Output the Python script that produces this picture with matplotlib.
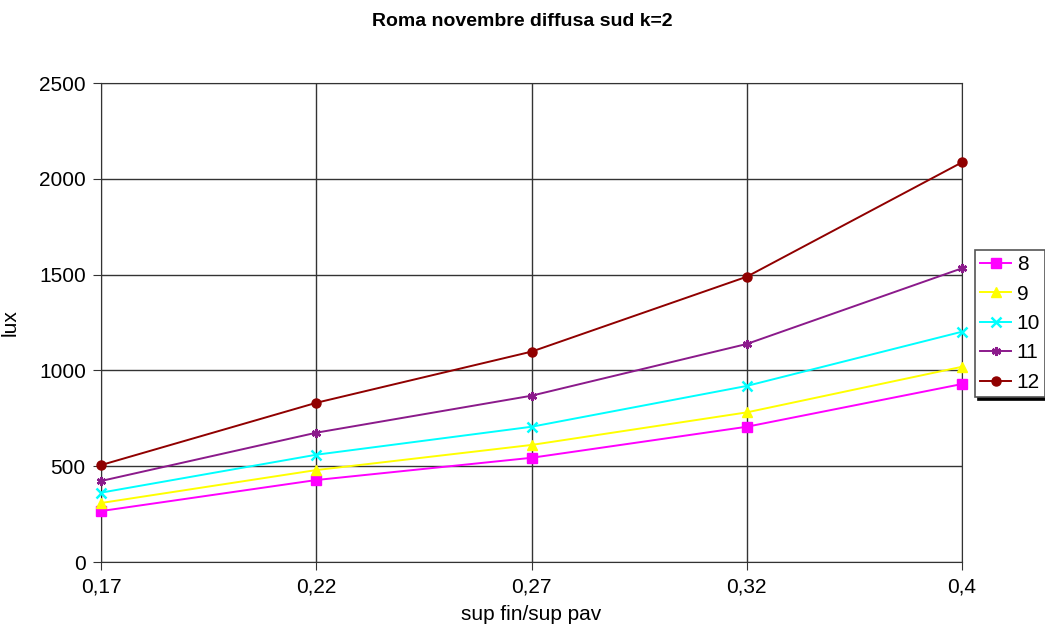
import matplotlib.pyplot as plt
import numpy as np

plt.rcParams['font.family'] = ['Liberation Sans', 'DejaVu Sans']

categories = ['0,17', '0,22', '0,27', '0,32', '0,4']
series_names = ['8', '9', '10', '11', '12']
s8 = [266, 428, 544, 706, 929]
s9 = [308, 480, 611, 781, 1019]
s10 = [362, 560, 706, 919, 1202]
s11 = [423, 675, 868, 1138, 1533]
s12 = [506, 831, 1098, 1489, 2086]

colors = ['#FF00FF', '#FFFF00', '#00FFFF', '#8B1A8B', '#900000']
markers = ['s', '^', 'x', (6, 2, 0), 'o']

fig = plt.figure(figsize=(10.45, 6.37), dpi=100)
ax = fig.add_axes([0.0967, 0.1177, 0.8239, 0.752])

x = np.arange(len(categories))
for name, vals, c, m in zip(series_names, [s8, s9, s10, s11, s12], colors, markers):
    ax.plot(x, vals, color=c, marker=m, markersize=6.5, markeredgewidth=1.8 if m in ('x', (6, 2, 0)) else 1,
            linewidth=1.4, label=name, clip_on=False, zorder=3)

ax.set_xlim(0, 4)
ax.set_ylim(0, 2500)
ax.set_xticks(x)
ax.set_xticklabels(categories)
ax.set_yticks(np.arange(0, 2501, 500))
ax.grid(True, color='#333333', linewidth=1)
ax.set_axisbelow(True)
for s in ax.spines.values():
    s.set_color('#333333')
ax.tick_params(labelsize=15, length=6, color='#333333', pad=5)

ax.set_xlabel('sup fin/sup pav', fontsize=15, labelpad=6)
ax.set_ylabel('lux', fontsize=15, labelpad=14)
fig.suptitle('Roma novembre diffusa sud k=2', fontsize=14, fontweight='bold', y=0.98)

leg = fig.legend(loc='upper left', bbox_to_anchor=(0.933, 0.6075), fontsize=15, frameon=True,
                 fancybox=False, shadow={'color': 'black', 'alpha': 1}, handlelength=1.5,
                 borderpad=0.25, labelspacing=0.5, handletextpad=0.25, borderaxespad=0)
leg.get_frame().set_edgecolor('#555555')
leg.get_frame().set_linewidth(1.2)

fig.savefig('out.png', dpi=100)
